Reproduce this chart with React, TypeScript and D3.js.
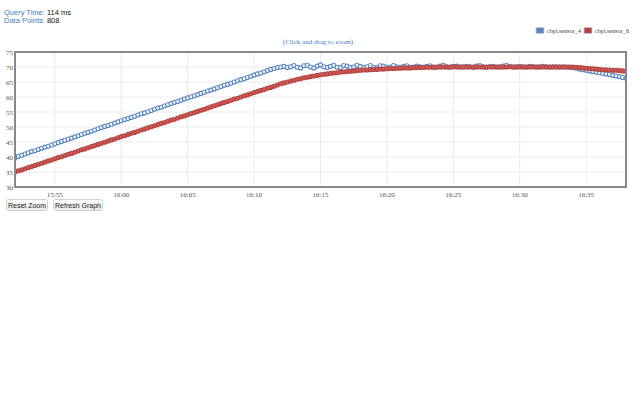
import React from "react";
import * as d3 from "d3";

const startTime = new Date(2017, 0, 1, 15, 52, 0);
const endTime = new Date(2017, 0, 1, 16, 38, 0);
const stepSeconds = 15;

const sensor4: number[] = [
  39.7, 40.2, 40.6, 41.0, 41.4, 41.8, 42.1, 42.5, 42.9, 43.3, 43.6, 44.0,
  44.4, 44.8, 45.2, 45.6, 45.9, 46.3, 46.7, 47.1, 47.5, 47.9, 48.2, 48.6,
  49.0, 49.4, 49.8, 50.2, 50.5, 50.9, 51.3, 51.7, 52.1, 52.5, 52.8, 53.2,
  53.6, 54.0, 54.4, 54.7, 55.1, 55.5, 55.9, 56.3, 56.6, 57.0, 57.4, 57.8,
  58.2, 58.5, 58.9, 59.3, 59.7, 60.1, 60.4, 60.8, 61.2, 61.6, 62.0, 62.3,
  62.7, 63.1, 63.5, 63.9, 64.2, 64.6, 65.0, 65.4, 65.8, 66.1, 66.5, 66.9,
  67.3, 67.7, 68.0, 68.4, 68.8, 69.2, 69.5, 69.8, 70.0,
  70.2, 69.8, 70.1, 70.5, 69.9, 69.7, 70.4, 70.6,
  70.0, 69.7, 70.3, 70.7, 70.1, 69.8, 70.2, 70.6,
  69.9, 69.8, 70.5, 70.3, 69.8, 70.0, 70.6, 70.2,
  69.8, 70.1, 70.5, 69.9, 69.8, 70.4, 70.3, 69.9,
  70.0, 70.5, 70.1, 69.8, 70.2, 70.4, 69.9, 70.0,
  70.3, 70.1, 69.9, 70.2, 70.4, 70.0, 69.9, 70.3,
  70.6, 70.1, 69.9, 70.2, 70.3, 70.0, 70.1, 70.2,
  70.0, 69.9, 70.3, 70.5, 70.1, 69.9, 70.1, 70.2,
  70.0, 70.1, 70.3, 70.6, 70.2, 70.0, 70.1, 70.2,
  70.1, 70.0, 70.2, 70.1, 70.0, 70.1, 70.2, 70.1,
  70.0, 70.1, 70.1, 70.0, 70.1, 70.0, 69.9, 69.8,
  69.6, 69.3, 69.1, 68.9, 68.7, 68.5, 68.3, 68.1,
  67.9, 67.7, 67.5, 67.2, 67.0, 66.8, 66.5, 66.3,
];

const sensor6: number[] = [
  35.0, 35.4, 35.7, 36.1, 36.5, 36.8, 37.2, 37.6, 37.9, 38.3, 38.7, 39.0,
  39.4, 39.8, 40.1, 40.5, 40.9, 41.2, 41.6, 42.0, 42.4, 42.7, 43.1, 43.5,
  43.8, 44.2, 44.6, 44.9, 45.3, 45.7, 46.0, 46.4, 46.8, 47.1, 47.5, 47.9,
  48.2, 48.6, 49.0, 49.3, 49.7, 50.1, 50.4, 50.8, 51.2, 51.5, 51.9, 52.3,
  52.6, 53.0, 53.4, 53.7, 54.1, 54.5, 54.8, 55.2, 55.6, 55.9, 56.3, 56.7,
  57.1, 57.4, 57.8, 58.2, 58.5, 58.9, 59.3, 59.6, 60.0, 60.4, 60.7, 61.1,
  61.5, 61.8, 62.2, 62.5, 62.9, 63.2, 63.6, 64.0, 64.4, 64.7, 65.0, 65.3,
  65.6, 65.9, 66.1, 66.4, 66.6, 66.8, 67.0, 67.2, 67.4, 67.6, 67.7, 67.9,
  68.0, 68.1, 68.3, 68.4, 68.5, 68.6, 68.7, 68.8, 68.9, 69.0, 69.0, 69.1,
  69.2, 69.2, 69.3, 69.3, 69.4, 69.5, 69.5, 69.6, 69.6, 69.7, 69.7, 69.7,
  69.8, 69.8, 69.8, 69.9, 69.9, 69.9, 69.9, 70.0, 70.0,
  70.0, 70.0, 70.0, 70.1, 70.0, 70.0, 70.0, 70.0, 70.1, 70.0,
  70.0, 70.0, 70.0, 70.0, 70.1, 70.0, 70.0, 70.0, 70.0, 70.0,
  70.1, 70.0, 70.0, 70.0, 70.0, 70.0, 70.0, 70.1, 70.0, 70.0,
  70.0, 70.0, 70.0, 70.0, 70.0, 70.0, 70.0, 70.0, 70.0, 70.0,
  69.9, 69.8, 69.7, 69.6, 69.5, 69.4, 69.3, 69.2,
  69.1, 69.1, 69.0, 68.9, 68.9, 68.8, 68.7, 68.6,
];

const yTicks = [30, 35, 40, 45, 50, 55, 60, 65, 70, 75];
const xTickLabels = ["15:55", "16:00", "16:05", "16:10", "16:15", "16:20", "16:25", "16:30", "16:35"];
const seriesNames = ["cbpi.sensor_4", "cbpi.sensor_6"];
const seriesColors = ["#5a86c0", "#b8423f"];

const W = 640;
const H = 400;
const plot = { left: 15, right: 626, top: 52, bottom: 187 };

function timeOf(i: number) {
  return new Date(startTime.getTime() + i * stepSeconds * 1000);
}
function parseHM(s: string) {
  const [h, m] = s.split(":").map(Number);
  return new Date(2017, 0, 1, h, m, 0);
}

export default function App() {
  const x = d3.scaleTime().domain([startTime, endTime]).range([plot.left, plot.right]);
  const y = d3.scaleLinear().domain([30, 75]).range([plot.bottom, plot.top]);

  const pts4 = sensor4.map((v, i) => [x(timeOf(i)), y(v)] as [number, number]);
  const pts6 = sensor6.map((v, i) => [x(timeOf(i)), y(v)] as [number, number]);
  const line = d3.line();

  const serif = "'Liberation Serif', 'DejaVu Serif', serif";
  const sans = "'Liberation Sans', Arial, sans-serif";

  return (
    <div style={{ position: "fixed", left: 0, top: 0, width: W, height: H, background: "#fff" }}>
      <svg width={W} height={H} style={{ display: "block" }}>
        <defs>
          <clipPath id="plotclip">
            <rect x={plot.left} y={plot.top} width={plot.right - plot.left} height={plot.bottom - plot.top} />
          </clipPath>
          <linearGradient id="btn" x1="0" y1="0" x2="0" y2="1">
            <stop offset="0" stopColor="#ffffff" />
            <stop offset="1" stopColor="#e9e9e9" />
          </linearGradient>
        </defs>

        {/* header text */}
        <text x={4} y={15} fontFamily={sans} fontSize={7.5}>
          <tspan fill="#3a7fc1">Query Time: </tspan>
          <tspan fill="#111">114 ms</tspan>
        </text>
        <text x={4} y={23} fontFamily={sans} fontSize={7.5}>
          <tspan fill="#3a7fc1">Data Points: </tspan>
          <tspan fill="#111">808</tspan>
        </text>

        {/* legend */}
        {seriesNames.map((n, i) => {
          const lx = i === 0 ? 536 : 584;
          return (
            <g key={n}>
              <rect x={lx} y={27.5} width={8} height={6} fill={seriesColors[i]} stroke="#ccc" strokeWidth={0.8} />
              <text x={lx + 11} y={33} fontFamily={serif} fontSize={7} fill="#444" textLength={34} lengthAdjust="spacingAndGlyphs">{n}</text>
            </g>
          );
        })}

        <text x={318} y={44} textAnchor="middle" fontFamily={serif} fontSize={7} fill="#4a7dbd">
          (Click and drag to zoom)
        </text>

        {/* grid */}
        {yTicks.map((t) => (
          <line key={"gy" + t} x1={plot.left} x2={plot.right} y1={y(t)} y2={y(t)} stroke="#ebebeb" strokeWidth={1} />
        ))}
        {xTickLabels.map((s) => (
          <line key={"gx" + s} x1={x(parseHM(s))} x2={x(parseHM(s))} y1={plot.top} y2={plot.bottom} stroke="#ebebeb" strokeWidth={1} />
        ))}

        {/* series */}
        <g clipPath="url(#plotclip)">
          <path d={line(pts4) || ""} fill="none" stroke={seriesColors[0]} strokeWidth={1.2} />
          {pts4.map((p, i) => (
            <circle key={"a" + i} cx={p[0]} cy={p[1]} r={2} fill="#fff" stroke={seriesColors[0]} strokeWidth={1.1} />
          ))}
          <path d={line(pts6) || ""} fill="none" stroke={seriesColors[1]} strokeWidth={2} />
          {pts6.map((p, i) => (
            <circle key={"b" + i} cx={p[0]} cy={p[1]} r={2} fill="#c95c59" stroke={seriesColors[1]} strokeWidth={1.1} />
          ))}
        </g>

        {/* frame */}
        <rect x={plot.left} y={plot.top} width={plot.right - plot.left} height={plot.bottom - plot.top} fill="none" stroke="#888" strokeWidth={2} />

        {/* tick labels */}
        {yTicks.map((t) => (
          <text key={"ty" + t} x={13} y={y(t) + 2.5} textAnchor="end" fontFamily={serif} fontSize={7} fill="#545454">
            {t}
          </text>
        ))}
        {xTickLabels.map((s) => (
          <text key={"tx" + s} x={x(parseHM(s))} y={197} textAnchor="middle" fontFamily={serif} fontSize={7} fill="#545454">
            {s}
          </text>
        ))}

        {/* buttons */}
        <g>
          <rect x={6.5} y={199.5} width={41} height={11} rx={2} fill="url(#btn)" stroke="#d0d0d0" />
          <text x={27} y={207.8} textAnchor="middle" fontFamily={sans} fontSize={7} fill="#222">Reset Zoom</text>
          <rect x={53.5} y={199.5} width={49} height={11} rx={2} fill="url(#btn)" stroke="#d0d0d0" />
          <text x={78} y={207.8} textAnchor="middle" fontFamily={sans} fontSize={7} fill="#222">Refresh Graph</text>
        </g>
      </svg>
    </div>
  );
}
